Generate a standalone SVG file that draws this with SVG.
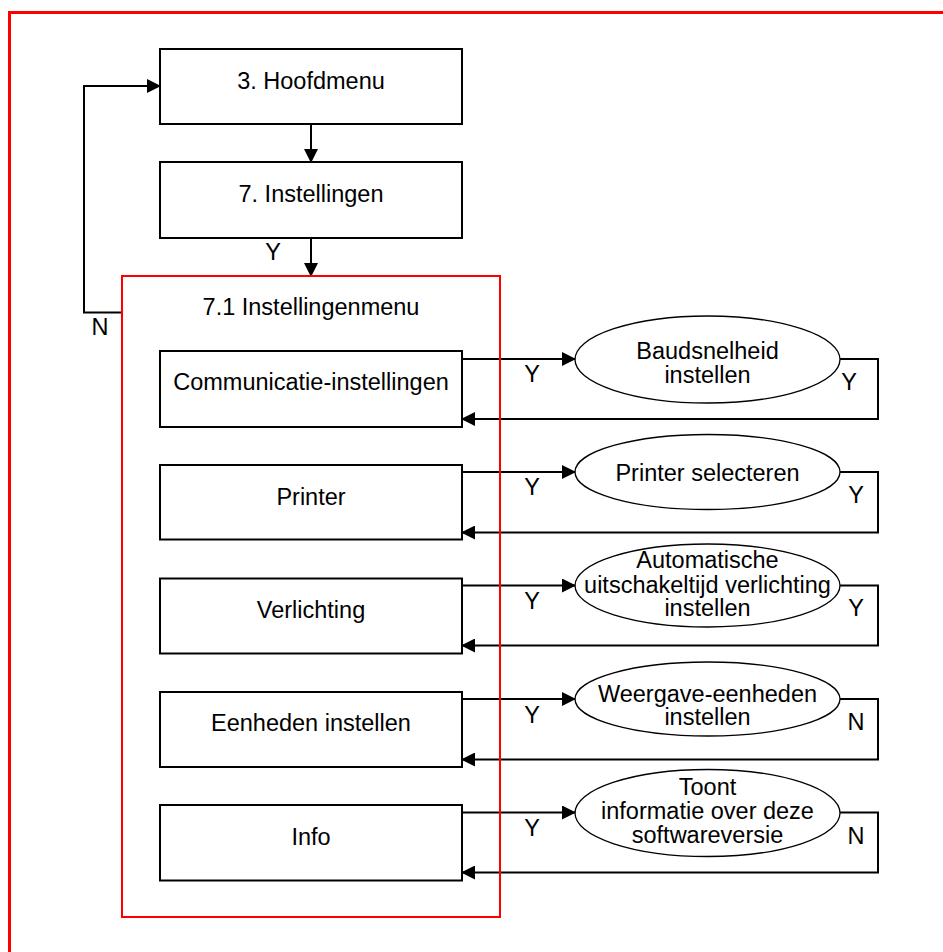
<svg xmlns="http://www.w3.org/2000/svg" width="943" height="952" viewBox="0 0 943 952">
<defs>
<style>
text{font-family:"Liberation Sans",Arial,sans-serif;font-size:23.5px;fill:#000;text-anchor:middle}
.box{fill:#fff;stroke:#000;stroke-width:2}
.ell{fill:#fff;stroke:#000;stroke-width:1.3}
.con{fill:none;stroke:#000;stroke-width:2}
.red{fill:none;stroke:#f00}
</style>
<marker id="arr" viewBox="0 0 14 14" refX="13" refY="7" markerWidth="14" markerHeight="14" markerUnits="userSpaceOnUse" orient="auto">
<path d="M0,0 L14,7 L0,14 Z" fill="#000"/>
</marker>
</defs>
<rect width="943" height="952" fill="#fff"/>
<rect class="red" x="9.5" y="12.5" width="960" height="960" stroke-width="3"/>

<g id="hoofdmenu"><rect class="box" x="160" y="49" width="302" height="75"/><text x="311" y="89">3. Hoofdmenu</text></g>
<g id="instellingen"><rect class="box" x="160" y="162" width="302" height="76"/><text x="311" y="201.5">7. Instellingen</text></g>

<g id="menu71"><text x="311" y="315">7.1 Instellingenmenu</text></g>

<g id="communicatie"><rect class="box" x="160" y="351" width="302" height="76"/><text x="311" y="389.5">Communicatie-instellingen</text></g>
<g id="printer"><rect class="box" x="160" y="465" width="302" height="74.5"/><text x="311" y="505">Printer</text></g>
<g id="verlichting"><rect class="box" x="160" y="578.5" width="302" height="75"/><text x="311" y="618">Verlichting</text></g>
<g id="eenheden"><rect class="box" x="160" y="692" width="302" height="75"/><text x="311" y="731">Eenheden instellen</text></g>
<g id="info"><rect class="box" x="160" y="805" width="302" height="75.5"/><text x="311" y="845">Info</text></g>

<g id="baud"><ellipse class="ell" cx="707.5" cy="359.5" rx="132.5" ry="43.5"/><text x="707.5" y="359">Baudsnelheid</text><text x="707.5" y="383">instellen</text></g>
<g id="printersel"><ellipse class="ell" cx="707.5" cy="472" rx="132.5" ry="37.5"/><text x="707.5" y="480.5">Printer selecteren</text></g>
<g id="auto"><ellipse class="ell" cx="707.5" cy="585.5" rx="132.5" ry="41.5"/><text x="707.5" y="568">Automatische</text><text x="707.5" y="592.5">uitschakeltijd verlichting</text><text x="707.5" y="616">instellen</text></g>
<g id="weergave"><ellipse class="ell" cx="707.5" cy="699" rx="132.5" ry="37"/><text x="707.5" y="701.5">Weergave-eenheden</text><text x="707.5" y="725">instellen</text></g>
<g id="toont"><ellipse class="ell" cx="707.5" cy="813" rx="132.5" ry="43.5"/><text x="707.5" y="795">Toont</text><text x="707.5" y="819">informatie over deze</text><text x="707.5" y="842.5">softwareversie</text></g>

<g id="connectors">
<path class="con" d="M311,124 V162" marker-end="url(#arr)"/>
<path class="con" d="M311,238 V276" marker-end="url(#arr)"/>
<path class="con" d="M122,312.5 H84 V86 H160" marker-end="url(#arr)"/>

<path class="con" d="M462,359 H575" marker-end="url(#arr)"/>
<path class="con" d="M840,359 H878 V419 H462" marker-end="url(#arr)"/>
<path class="con" d="M462,472 H575" marker-end="url(#arr)"/>
<path class="con" d="M840,472 H878 V532.5 H462" marker-end="url(#arr)"/>
<path class="con" d="M462,585.5 H575" marker-end="url(#arr)"/>
<path class="con" d="M840,585.5 H878 V645.5 H462" marker-end="url(#arr)"/>
<path class="con" d="M462,699 H575" marker-end="url(#arr)"/>
<path class="con" d="M840,699 H878 V759.5 H462" marker-end="url(#arr)"/>
<path class="con" d="M462,812.5 H575" marker-end="url(#arr)"/>
<path class="con" d="M840,812.5 H878 V872.5 H462" marker-end="url(#arr)"/>

<text x="273" y="260">Y</text>
<text x="100" y="335">N</text>
<text x="532" y="382">Y</text>
<text x="849" y="389.5">Y</text>
<text x="532" y="495">Y</text>
<text x="856" y="503">Y</text>
<text x="532" y="608.5">Y</text>
<text x="856" y="616">Y</text>
<text x="532" y="722.5">Y</text>
<text x="856" y="729.5">N</text>
<text x="532" y="836">Y</text>
<text x="856" y="843.5">N</text>
</g>

<rect class="red" x="122" y="276" width="378" height="641" stroke-width="2"/>
</svg>
